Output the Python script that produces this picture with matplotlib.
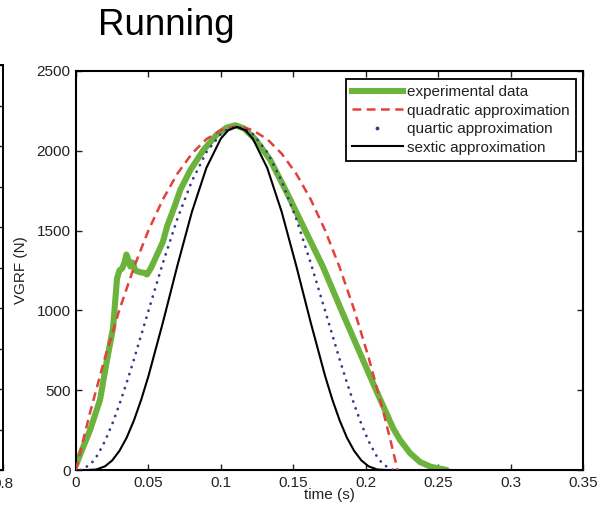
import matplotlib.pyplot as plt
from matplotlib.lines import Line2D

plt.rcParams['font.family'] = ['Liberation Sans', 'DejaVu Sans']

# Dados (tempo em s, forca em N)
t_exp = [0, 0.003, 0.0097, 0.0166, 0.0214, 0.0256, 0.0283, 0.030, 0.032, 0.0335,
         0.0348, 0.036, 0.0375, 0.039, 0.041, 0.044, 0.047, 0.049, 0.052, 0.056,
         0.060, 0.063, 0.068, 0.072, 0.079, 0.088, 0.097, 0.104, 0.110, 0.116,
         0.124, 0.134, 0.1456, 0.157, 0.1705, 0.184, 0.196, 0.208, 0.219, 0.2237,
         0.2305, 0.2375, 0.245, 0.256]
f_exp = [30, 100, 250, 440, 690, 890, 1200, 1250, 1265, 1300,
         1350, 1320, 1275, 1300, 1250, 1240, 1235, 1225, 1270, 1350,
         1430, 1530, 1650, 1755, 1880, 2005, 2100, 2145, 2160, 2140,
         2070, 1944, 1737, 1524, 1273, 984, 733, 483, 260, 188,
         107, 50, 20, 0]

t_quad = [0, 0.005, 0.01, 0.02, 0.03, 0.04, 0.05, 0.06, 0.07, 0.08, 0.09, 0.10, 0.105,
          0.111, 0.117, 0.122, 0.132, 0.142, 0.152, 0.162, 0.172, 0.182, 0.192, 0.202,
          0.212, 0.217, 0.222]
f_quad = [0, 189, 370, 705, 1005, 1270, 1501, 1696, 1857, 1982, 2073, 2129, 2144,
          2150, 2144, 2129, 2073, 1982, 1857, 1696, 1501, 1270, 1005, 705,
          370, 189, 0]

t_quart = [0.003, 0.01, 0.015, 0.02, 0.025, 0.03, 0.035, 0.04, 0.05, 0.06, 0.07, 0.08,
           0.09, 0.10, 0.105, 0.111, 0.117, 0.122, 0.132, 0.142, 0.152, 0.162, 0.172,
           0.182, 0.187, 0.192, 0.197, 0.202, 0.207, 0.212, 0.219]
f_quart = [0, 34, 95, 181, 288, 412, 548, 693, 997, 1298, 1575, 1810,
           1991, 2106, 2137, 2150, 2137, 2106, 1991, 1810, 1575, 1298, 997,
           693, 548, 412, 288, 181, 95, 34, 0]

t_sext = [0.008, 0.014, 0.02, 0.025, 0.03, 0.035, 0.04, 0.045, 0.05, 0.06, 0.07, 0.08,
          0.09, 0.10, 0.105, 0.111, 0.117, 0.122, 0.132, 0.142, 0.152, 0.162, 0.172,
          0.177, 0.182, 0.187, 0.192, 0.197, 0.202, 0.208, 0.214]
f_sext = [0, 3, 23, 60, 120, 203, 311, 440, 588, 925, 1281, 1617,
          1893, 2077, 2128, 2150, 2128, 2077, 1893, 1617, 1281, 925, 588,
          440, 311, 203, 120, 60, 23, 3, 0]

labels = ["experimental data", "quadratic approximation",
          "quartic approximation", "sextic approximation"]

verde = "#6cb33e"
vermelho = "#e2413c"
azul = "#363a88"
tracejado = (0, (3.5, 2.2))
pontilhado = (0, (0.05, 2.6))

fig = plt.figure(figsize=(5.97, 5.13), dpi=100)

# Painel anterior cortado na borda esquerda
ax0 = fig.add_axes([-0.5, 43 / 513, 0.5 + 3 / 597, 405 / 513])
ax0.set_xlim(0, 0.8)
ax0.set_ylim(0, 1)
ax0.set_xticks([0.8])
ax0.set_xticklabels(["0.8"])
ax0.set_yticks([i / 10 for i in range(11)])
ax0.tick_params(direction='in', length=4, width=1, right=True, labelleft=False,
                labelsize=11, pad=5, colors='#222222')
for s in ax0.spines.values():
    s.set_linewidth(1.4)

# Painel principal
ax = fig.add_axes([76 / 597, 43 / 513, 507 / 597, 399 / 513])
ax.plot(t_exp, f_exp, color=verde, lw=4.4, solid_joinstyle='round',
        solid_capstyle='round', zorder=2)
ax.plot(t_quad, f_quad, color=vermelho, lw=1.8, ls=tracejado, zorder=3)
ax.plot(t_quart, f_quart, color=azul, lw=2.0, ls=pontilhado,
        dash_capstyle='round', zorder=3)
ax.plot(t_sext, f_sext, color='black', lw=1.5, zorder=4)

ax.set_xlim(0, 0.35)
ax.set_ylim(0, 2500)
ax.set_xticks([0, 0.05, 0.1, 0.15, 0.2, 0.25, 0.3, 0.35])
ax.set_xticklabels(["0", "0.05", "0.1", "0.15", "0.2", "0.25", "0.3", "0.35"])
ax.set_yticks([0, 500, 1000, 1500, 2000, 2500])
ax.tick_params(direction='in', length=4, width=1, top=True, right=True,
               labelsize=11, pad=4, colors='#222222')
for s in ax.spines.values():
    s.set_linewidth(1.5)

ax.set_xlabel("time (s)", fontsize=11, color='#222222')
ax.set_ylabel("VGRF (N)", fontsize=11, color='#222222')
ax.xaxis.set_label_coords(0.5, -0.045)
ax.yaxis.set_label_coords(-0.094, 0.5)

handles = [
    Line2D([], [], color=verde, lw=4.4),
    Line2D([], [], color=vermelho, lw=1.8, ls=tracejado),
    Line2D([], [], color=azul, ls='none', marker='.', markersize=3.5),
    Line2D([], [], color='black', lw=1.5),
]
leg = ax.legend(handles, labels, loc='upper right', bbox_to_anchor=(0.986, 0.98),
                borderaxespad=0, fontsize=11, handlelength=3.3, handletextpad=0.3,
                labelspacing=0.3, borderpad=0.4, fancybox=False, framealpha=1)
leg.get_frame().set_edgecolor('black')
leg.get_frame().set_linewidth(1.3)
for txt in leg.get_texts():
    txt.set_color('#222222')

fig.text(166 / 597, 1 - 35 / 513, "Running", fontsize=26.5, ha='center',
         va='baseline', color='black')

fig.savefig("out.png", dpi=100)
plt.close('all')
